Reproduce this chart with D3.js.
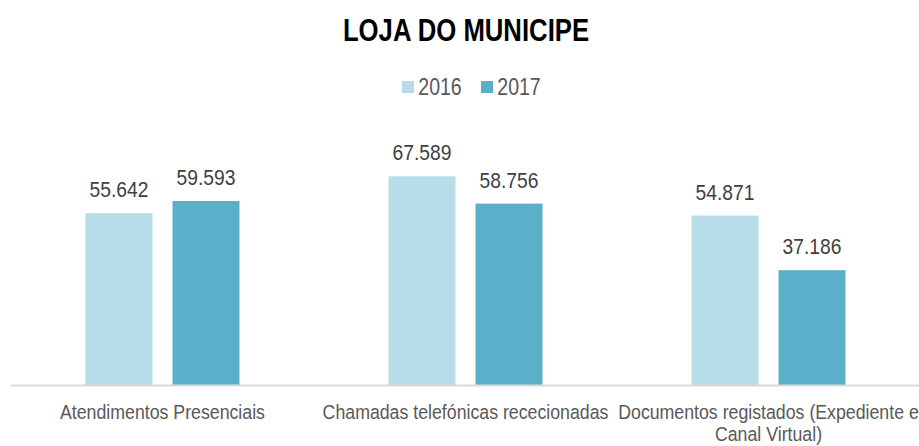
<!DOCTYPE html>
<html>
<head>
<meta charset="utf-8">
<script src="https://cdn.jsdelivr.net/npm/d3@7"></script>
<style>
  body { margin: 0; background: #fff; }
  svg text { font-family: "Liberation Sans Narrow", "Arial Narrow", "Liberation Sans", sans-serif; }
</style>
</head>
<body>
<div id="chart"></div>
<script>
// data
var categories = ["Atendimentos Presenciais", "Chamadas telefónicas rececionadas", "Documentos registados (Expediente e Canal Virtual)"];
var catLines = [["Atendimentos Presenciais"], ["Chamadas telefónicas rececionadas"], ["Documentos registados (Expediente e", "Canal Virtual)"]];
var years = ["2016", "2017"];
var values2016 = [55642, 67589, 54871];
var values2017 = [59593, 58756, 37186];
var colors = ["#b7dde8", "#5bb0c9"];

var W = 919, H = 446;
var svg = d3.select("#chart").append("svg").attr("width", W).attr("height", H);

var x0 = d3.scaleBand().domain(categories).range([11, 920]);
var x1 = d3.scaleBand().domain(years).range([0, 154]).paddingInner(0.23);
var y = d3.scaleLinear().domain([0, 80000]).range([385, 138]);
var fmt = function(v){ return d3.format(",")(v).replace(/,/g, "."); };

// narrow text: regular font squeezed horizontally
function ntext(sel, x, yy, sx){
  return sel.append("text")
    .attr("transform", "translate(" + x + "," + yy + ") scale(" + sx + ",1)")
    .attr("text-anchor", "middle");
}

var rows = categories.map(function(c, i){
  return {cat: c, vals: [values2016[i], values2017[i]]};
});

var g = svg.selectAll(".grp").data(rows).enter().append("g")
  .attr("class", "grp")
  .attr("transform", function(d){ return "translate(" + (x0(d.cat) + x0.bandwidth()/2 - 77) + ",0)"; });

g.each(function(d){
  var gg = d3.select(this);
  d.vals.forEach(function(v, j){
    gg.append("rect")
      .attr("x", x1(years[j]))
      .attr("y", y(v))
      .attr("width", x1.bandwidth())
      .attr("height", y(0) - y(v))
      .attr("fill", colors[j]);
    ntext(gg, x1(years[j]) + x1.bandwidth()/2, y(v) - 16, 0.875)
      .attr("font-size", 22)
      .attr("fill", "#404040")
      .text(fmt(v));
  });
});

// axis line
svg.append("line")
  .attr("x1", 11).attr("x2", 919)
  .attr("y1", 385.5).attr("y2", 385.5)
  .attr("stroke", "#d9d9d9").attr("stroke-width", 2);

// category labels
categories.forEach(function(c, i){
  catLines[i].forEach(function(l, k){
    ntext(svg, x0(c) + x0.bandwidth()/2, 419 + k * 22, 0.91)
      .attr("font-size", 19.5)
      .attr("fill", "#595959")
      .text(l);
  });
});

// title
ntext(svg, 466, 41, 0.83)
  .attr("font-size", 31)
  .attr("font-weight", "bold")
  .attr("fill", "#000")
  .text("LOJA DO MUNICIPE");

// legend
var leg = svg.selectAll(".leg").data(years).enter().append("g")
  .attr("transform", function(d, i){ return "translate(" + (402 + i * 79) + ",81)"; });
leg.append("rect").attr("width", 12).attr("height", 12).attr("fill", function(d, i){ return colors[i]; });
leg.each(function(d){
  ntext(d3.select(this), 38, 14, 0.85)
    .attr("font-size", 23)
    .attr("fill", "#595959")
    .text(d);
});
</script>
</body>
</html>
